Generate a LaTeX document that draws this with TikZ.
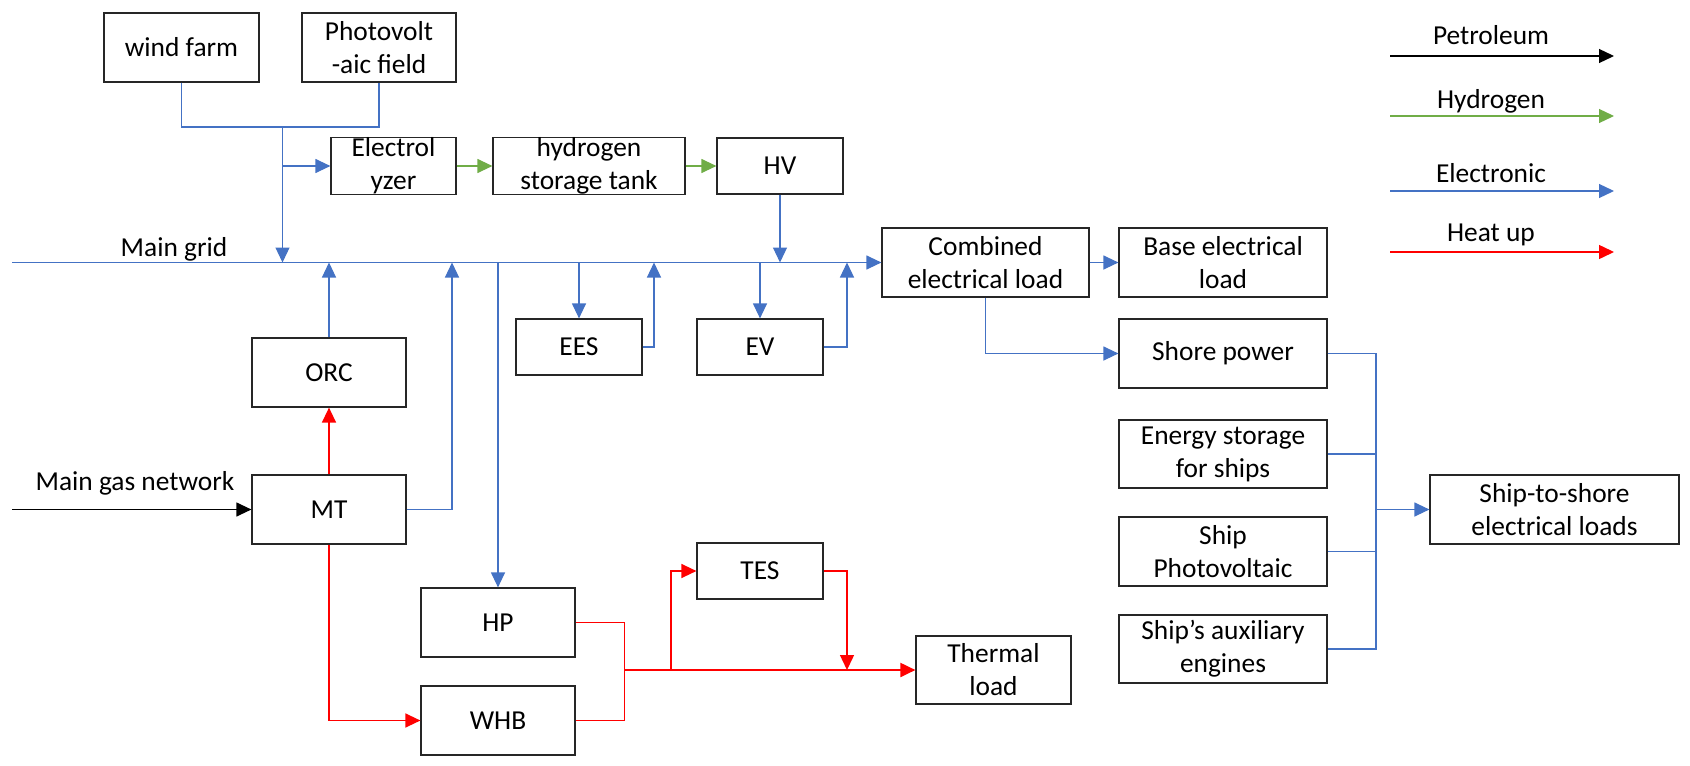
\documentclass[tikz,border=0pt]{standalone}
\usepackage{fontspec}
\setmainfont{Carlito}
\usetikzlibrary{arrows.meta}
\definecolor{eblue}{HTML}{4472C4}
\definecolor{hgreen}{HTML}{70AD47}
\definecolor{hred}{HTML}{FF0000}
\newcommand\bx[7][]{\node[box,#1,minimum width={(#5-#3)*0.5pt},minimum height={(#6-#4)*0.5pt}] (#2) at ({(#3+#5)/2},{(#4+#6)/2}) {#7};}
\begin{document}
\begin{tikzpicture}[x=0.5pt,y=-0.5pt,
  box/.style={draw=black!85,line width=0.6pt,align=center,inner sep=0pt,font=\fontsize{13.7}{16.5}\selectfont},
  tip/.style={-{Triangle[length=7.5pt,width=7pt]}},
  el/.style={eblue,line width=0.6pt},
  ht/.style={hred,line width=0.7pt},
  hy/.style={hgreen,line width=0.6pt},
  pe/.style={black,line width=0.6pt},
  lbl/.style={font=\fontsize{13.7}{16.5}\selectfont,inner sep=0pt}]
\useasboundingbox (0,0) rectangle (1690,765);
% boxes
\bx{wind}{104}{13}{259}{82}{wind farm}
\bx{pv}{302}{13}{456}{82}{Photovolt\\-aic field}
\bx{ely}{331}{138}{456}{194}{Electrol\\yzer}
\bx{h2}{493}{138}{685}{194}{hydrogen\\storage tank}
\bx{hv}{717}{138}{843}{194}{HV}
\bx{comb}{882}{228}{1089}{297}{Combined\\electrical load}
\bx{base}{1119}{228}{1327}{297}{Base electrical\\load}
\bx{ees}{516}{319}{642}{375}{EES}
\bx{ev}{697}{319}{823}{375}{EV}
\bx{orc}{252}{338}{406}{407}{ORC}
\bx{mt}{252}{475}{406}{544}{MT}
\bx{hp}{421}{588}{575}{657}{HP}
\bx{whb}{421}{686}{575}{755}{WHB}
\bx{tes}{697}{543}{823}{599}{TES}
\bx{th}{916}{636}{1071}{704}{Thermal\\load}
\bx{shore}{1119}{319}{1327}{388}{Shore power}
\bx{es}{1119}{420}{1327}{488}{Energy storage\\for ships}
\bx{spv}{1119}{517}{1327}{586}{Ship\\Photovoltaic}
\bx{aux}{1119}{615}{1327}{683}{Ship{\char"27}s auxiliary\\engines}
\bx{s2s}{1430}{475}{1679}{544}{Ship-to-shore\\electrical loads}
% labels
\node[lbl] (mg) at (174,249) {Main grid};
\node[lbl] (mgn) at (135,483) {Main gas network};
% coordinates
\coordinate (gL) at (12,262.5);
\coordinate (j1) at (282.5,127);
\coordinate (j2) at (282.5,166);
\coordinate (g1) at (282.5,262.5);
\coordinate (g2) at (452,262.5);
\coordinate (g3) at (654,262.5);
\coordinate (g4) at (847,262.5);
\coordinate (bb) at (1376,649);
\coordinate (bm) at (1376,509.5);
\coordinate (r1) at (624.5,670);
\coordinate (r2) at (671,670);
\coordinate (r3) at (847,670);
\coordinate (gasL) at (12,509.5);
% electric
\draw[el] (wind.south) |- (j1) -| (pv.south);
\draw[el,tip] (j1) -- (g1);
\draw[el,tip] (j2) -- (ely.west);
\draw[el,tip] (gL) -- (comb.west);
\draw[el,tip] (hv.south) -- (hv.south |- gL);
\draw[el,tip] (orc.north) -- (orc.north |- gL);
\draw[el,tip] (mt.east) -| (g2);
\draw[el,tip] (hp.north |- gL) -- (hp.north);
\draw[el,tip] (ees.north |- gL) -- (ees.north);
\draw[el,tip] (ees.east) -| (g3);
\draw[el,tip] (ev.north |- gL) -- (ev.north);
\draw[el,tip] (ev.east) -| (g4);
\draw[el,tip] (comb.east) -- (base.west);
\draw[el,tip] (comb.south) |- (shore.west);
\draw[el] (shore.east) -| (bb) -- (aux.east);
\draw[el] (es.east) -- (es.east -| bb);
\draw[el] (spv.east) -- (spv.east -| bb);
\draw[el,tip] (bm) -- (s2s.west);
% heat
\draw[ht,tip] (mt.north) -- (orc.south);
\draw[ht,tip] (mt.south) |- (whb.west);
\draw[ht] (hp.east) -| (r1);
\draw[ht] (whb.east) -| (r1);
\draw[ht,tip,line width=1pt] (r1) -- (th.west);
\draw[ht,tip] (r2) |- (tes.west);
\draw[ht,tip] (tes.east) -| (r3);
% hydrogen
\draw[hy,tip] (ely.east) -- (h2.west);
\draw[hy,tip] (h2.east) -- (hv.west);
% gas
\draw[pe,tip] (gasL) -- (mt.west);
% legend
\coordinate (p1) at (1390,56);   \coordinate (p2) at (1614,56);
\coordinate (q1) at (1390,116);  \coordinate (q2) at (1614,116);
\coordinate (e1) at (1390,191);  \coordinate (e2) at (1614,191);
\coordinate (t1) at (1390,252);  \coordinate (t2) at (1614,252);
\draw[pe,tip] (p1) -- (p2);
\draw[hy,tip] (q1) -- (q2);
\draw[el,tip] (e1) -- (e2);
\draw[ht,tip] (t1) -- (t2);
\node[lbl] (lp) at (1491,35) {Petroleum};
\node[lbl] (lh) at (1491,101) {Hydrogen};
\node[lbl] (le) at (1491,173) {Electronic};
\node[lbl] (lt) at (1491,235) {Heat up};
\end{tikzpicture}
\end{document}
